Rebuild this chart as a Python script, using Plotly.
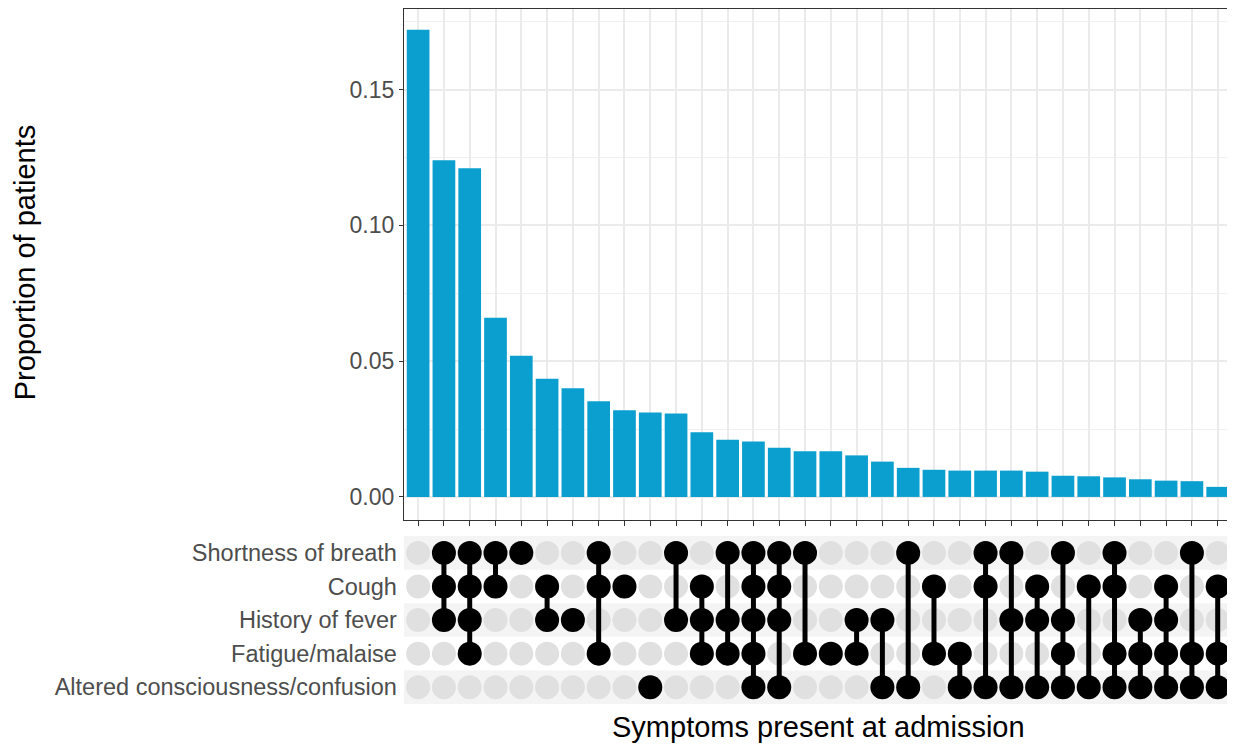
import plotly.graph_objects as go
from plotly.subplots import make_subplots

# symptom rows, top to bottom
symptoms = ["Shortness of breath", "Cough", "History of fever",
            "Fatigue/malaise", "Altered consciousness/confusion"]
codes = ["S", "C", "H", "F", "A"]

# each column: which symptoms are present
combos = ["", "SCH", "SCHF", "SC", "S", "CH", "H", "SCF", "C", "A",
          "SH", "CHF", "SHF", "SCHFA", "SCHA", "SF", "F", "HF", "HA", "SA",
          "CF", "FA", "SCA", "SHA", "CHA", "SHFA", "CA", "SCFA", "HFA",
          "CHFA", "SFA", "CFA"]
proportion = [0.172, 0.124, 0.121, 0.066, 0.052, 0.0435, 0.040, 0.0352,
              0.0319, 0.0311, 0.0307, 0.0238, 0.0211, 0.0204, 0.0181, 0.0168,
              0.0168, 0.0153, 0.0130, 0.0107, 0.0100, 0.0097, 0.0097, 0.0097,
              0.0093, 0.0078, 0.0076, 0.0072, 0.0065, 0.0060, 0.0058, 0.0037]

n = len(combos)
xs = list(range(n))
rowy = {c: 4 - i for i, c in enumerate(codes)}

fig = make_subplots(rows=2, cols=1)
fig.add_trace(go.Bar(x=xs, y=proportion, marker_color="#0a9fcf",
                     marker_line_width=0, width=0.88), row=1, col=1)

# grey background dots
gx, gy = [], []
for x in xs:
    for c in codes:
        gx.append(x)
        gy.append(rowy[c])
fig.add_trace(go.Scatter(x=gx, y=gy, mode="markers",
                         marker=dict(size=24, color="#e0e0e0")), row=2, col=1)

# connecting lines
lx, ly = [], []
for x, s in zip(xs, combos):
    ys = [rowy[c] for c in s]
    if len(ys) > 1:
        lx += [x, x, None]
        ly += [min(ys), max(ys), None]
fig.add_trace(go.Scatter(x=lx, y=ly, mode="lines",
                         line=dict(color="black", width=5)), row=2, col=1)

# active dots
ax_, ay_ = [], []
for x, s in zip(xs, combos):
    for c in s:
        ax_.append(x)
        ay_.append(rowy[c])
fig.add_trace(go.Scatter(x=ax_, y=ay_, mode="markers",
                         marker=dict(size=24, color="black")), row=2, col=1)

# stripes behind alternate rows
for r in (4, 2, 0):
    fig.add_shape(type="rect", xref="x2 domain", yref="y2", x0=0, x1=1,
                  y0=r - 0.5, y1=r + 0.5, fillcolor="#f4f4f4",
                  line_width=0, layer="below")

xr = [-0.55, n - 0.45]
fig.update_xaxes(domain=[0.3206, 0.991], range=xr, automargin=False)
fig.update_yaxes(automargin=False)
fig.update_xaxes(row=1, col=1, tickvals=xs, ticktext=[""] * n, ticks="outside",
                 ticklen=5, tickcolor="#333", showgrid=True, gridcolor="#ebebeb",
                 gridwidth=1.5,
                 showline=True, mirror=True, linecolor="#333", linewidth=1.2,
                 zeroline=False)
fig.update_xaxes(row=2, col=1, showticklabels=False, showgrid=False,
                 zeroline=False)
fig.update_yaxes(row=1, col=1, domain=[0.3155, 0.998], range=[-0.0085, 0.1795],
                 tickvals=[0, 0.05, 0.10, 0.15],
                 ticktext=["0.00", "0.05", "0.10", "0.15"],
                 ticks="outside", ticklen=4, tickcolor="#333",
                 tickfont=dict(size=23, color="#4d4d4d"),
                 showgrid=True, gridcolor="#ebebeb", gridwidth=1.5,
                 minor=dict(tickvals=[0.025, 0.075, 0.125, 0.175], showgrid=True,
                            gridcolor="#f0f0f0", gridwidth=1, ticks=""),
                 showline=True, mirror=True, linecolor="#333", linewidth=1.2,
                 zeroline=False)
fig.update_yaxes(row=2, col=1, domain=[0.0695, 0.294], range=[-0.5, 4.5],
                 tickvals=[rowy[c] for c in codes], ticktext=symptoms,
                 tickfont=dict(size=23.5, color="#4d4d4d"), showgrid=False,
                 zeroline=False, ticks="", ticklabelstandoff=6)

fig.add_annotation(text="Proportion of patients", xref="paper", yref="paper",
                   x=0.0138, y=0.66, textangle=-90, showarrow=False,
                   xanchor="center", yanchor="middle",
                   font=dict(size=29, color="black"))
fig.add_annotation(text="Symptoms present at admission", xref="paper",
                   yref="paper", x=0.656, y=0.0388, showarrow=False,
                   xanchor="center", yanchor="middle",
                   font=dict(size=29, color="black"))

fig.update_layout(width=1235, height=748, showlegend=False,
                  plot_bgcolor="white", paper_bgcolor="white",
                  font=dict(family="Liberation Sans, Arial"),
                  margin=dict(l=0, r=0, t=0, b=0))
fig.write_html("out.html")
